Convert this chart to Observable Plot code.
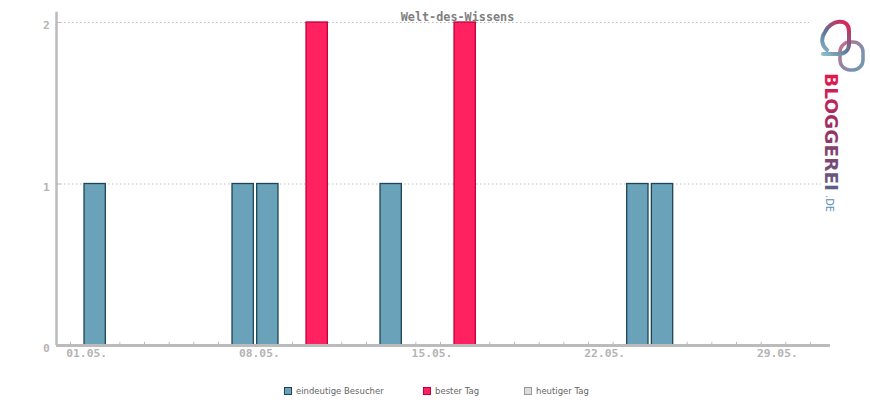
<!DOCTYPE html>
<html><head><meta charset="utf-8">
<script src="https://cdn.jsdelivr.net/npm/d3@7"></script>
<script src="https://cdn.jsdelivr.net/npm/@observablehq/plot@0.6"></script>
<style>
body{margin:0;background:#fff;}
#wrap{position:relative;width:870px;height:400px;overflow:hidden;background:#fff;}
#chart{position:absolute;left:0;top:0;}
.leg{position:absolute;top:385px;height:12px;font-family:"DejaVu Sans",sans-serif;font-size:8.5px;color:#666;line-height:12px;white-space:nowrap;}
.leg i{display:inline-block;width:7px;height:7px;vertical-align:-1px;margin-right:4px;box-sizing:content-box;}
#logo{position:absolute;left:0;top:0;pointer-events:none;}
</style></head><body>
<div id="wrap"><div id="chart"></div></div>
<script>
const title = "Welt-des-Wissens";
const days = [1, 7, 8, 10, 13, 16, 23, 24];
const visitors = [1, 1, 1, 2, 1, 2, 1, 1];
const isBest = [false, false, false, true, false, true, false, false];
const tickDays = d3.range(0, 31);
const labelDays = [1, 8, 15, 22, 29];
const labelTexts = ["01.05.", "08.05.", "15.05.", "22.05.", "29.05."];
const yTicks = [0, 1, 2];
const legendLabels = ["eindeutige Besucher", "bester Tag", "heutiger Tag"];

const blueFill = "#6aa2b9", blueStroke = "#1a4658";
const redFill = "#ff2160", redStroke = "#c2003a";

const data = days.map((d, i) => ({day: d, value: visitors[i], best: isBest[i]}));
const xmin = -0.5676, xmax = 30.81;
const mono = "DejaVu Sans Mono, monospace";

const chart = Plot.plot({
  width: 870, height: 375,
  marginLeft: 56, marginRight: 40, marginTop: 22, marginBottom: 30,
  x: {domain: [xmin, xmax], axis: null},
  y: {domain: [0, 2], axis: null},
  marks: [
    Plot.ruleY([1, 2], {y: d => d, stroke: "#bbb", strokeDasharray: "1.5,2.5", strokeWidth: 1}),
    Plot.ruleX(tickDays, {x: d => d, y1: -0.005, y2: 0.02, stroke: "#bbb", strokeWidth: 1}),
    Plot.rectY(data.filter(d => !d.best), {x1: d => d.day - 0.432, x2: d => d.day + 0.432, y1: 0, y2: "value", fill: blueFill, stroke: blueStroke, strokeWidth: 1.3}),
    Plot.rectY(data.filter(d => d.best), {x1: d => d.day - 0.432, x2: d => d.day + 0.432, y1: 0, y2: "value", fill: redFill, stroke: redStroke, strokeWidth: 1.3}),
    Plot.ruleY([0], {stroke: "#bbb", strokeWidth: 3}),
    Plot.ruleX([xmin], {x: d => d, y1: 0, y2: 2.063, stroke: "#bbb", strokeWidth: 2.5}),
    Plot.ruleY(yTicks.filter(d => d > 0), {y: d => d, x1: xmin, x2: xmin + 0.18, stroke: "#bbb", strokeWidth: 1}),
    Plot.text(labelDays, {x: d => d, text: (d, i) => labelTexts[i], frameAnchor: "bottom", dy: 11.5, dx: -8.5, fill: "#b4b4b4", fontFamily: mono, fontSize: 11.3, fontWeight: "bold"}),
    Plot.text(yTicks, {y: d => d, text: d => String(d), frameAnchor: "left", dx: -10, dy: 3, textAnchor: "middle", fill: "#b4b4b4", fontFamily: mono, fontSize: 11.3, fontWeight: "bold"}),
    Plot.text([title], {text: d => d, frameAnchor: "top", dy: -10, dx: 14, fill: "#808080", fontFamily: mono, fontSize: 11.8, fontWeight: "bold"})
  ]
});
document.getElementById("chart").appendChild(chart);

// legend
const legendPos = [284, 423, 524];
const legendSw = [[blueFill, blueStroke], [redFill, redStroke], ["#dcdcdc", "#999"]];
const wrap = document.getElementById("wrap");
legendLabels.forEach((lab, i) => {
  const el = document.createElement("div");
  el.className = "leg";
  el.style.left = legendPos[i] + "px";
  const sw = document.createElement("i");
  sw.style.background = legendSw[i][0];
  sw.style.border = "1px solid " + legendSw[i][1];
  sw.style.width = "6px"; sw.style.height = "6px";
  el.appendChild(sw);
  el.appendChild(document.createTextNode(lab));
  wrap.appendChild(el);
});

// decorative logo
const logo = `<svg id="logo" width="870" height="400" xmlns="http://www.w3.org/2000/svg">
<defs>
<linearGradient id="gt" gradientUnits="userSpaceOnUse" x1="0" y1="0" x2="118" y2="0">
<stop offset="0" stop-color="#e8174e"/><stop offset="0.45" stop-color="#9a2f62"/><stop offset="1" stop-color="#5d5f86"/></linearGradient>
<linearGradient id="g1" gradientUnits="userSpaceOnUse" x1="822" y1="55" x2="850" y2="22">
<stop offset="0" stop-color="#8fc0cf"/><stop offset="0.45" stop-color="#5b7898"/><stop offset="1" stop-color="#ec1a4f"/></linearGradient>
<linearGradient id="g2" gradientUnits="userSpaceOnUse" x1="838" y1="45" x2="866" y2="68">
<stop offset="0" stop-color="#c86a8a"/><stop offset="0.5" stop-color="#8a8aa8"/><stop offset="1" stop-color="#6a9ab2"/></linearGradient>
</defs>
<rect x="809" y="12" width="61" height="50" fill="#fff"/>
<rect x="821" y="60" width="49" height="160" fill="#fff"/>
<rect x="840" y="42" width="23" height="28" rx="10" fill="none" stroke="url(#g2)" stroke-width="3.5"/>
<path d="M827,50 C821,45 821,38 825,32 C830,20 849,17 849,31 L849,44 C849,50 845,54 838,54 L823,54" fill="none" stroke="url(#g1)" stroke-width="4" stroke-linecap="round"/>
<text transform="translate(825,73) rotate(90)" font-family="DejaVu Sans, sans-serif" font-weight="bold" font-size="18" textLength="118" lengthAdjust="spacingAndGlyphs" fill="url(#gt)">BLOGGEREI</text>
<text transform="translate(826,195) rotate(90)" font-family="DejaVu Sans, sans-serif" font-size="11" textLength="17" lengthAdjust="spacingAndGlyphs" fill="#5a8fb4">.DE</text>
</svg>`;
wrap.insertAdjacentHTML("beforeend", logo);
</script>
</body></html>
